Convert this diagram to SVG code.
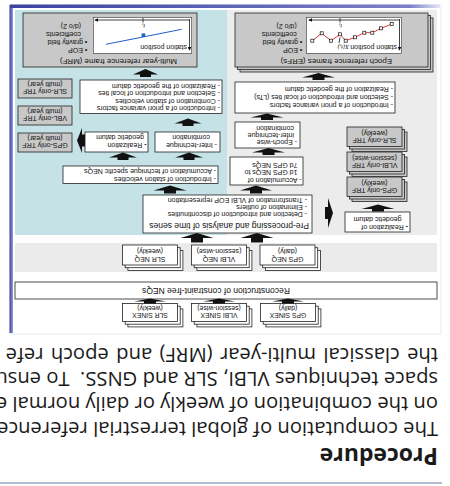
<svg xmlns="http://www.w3.org/2000/svg" width="450" height="486" viewBox="0 0 450 486">
<defs>
<style>
.body{font-family:"Open Sans","Liberation Sans",sans-serif;font-size:20.2px;fill:#1a1a1a}
.h{font-family:"Open Sans","Liberation Sans",sans-serif;font-size:23px;font-weight:bold;fill:#1a1a1a}
.s{font-family:"Liberation Sans",Arial,sans-serif;font-size:7px;fill:#111}
.m{text-anchor:middle}
.big{font-size:8.5px}
.ttl{font-size:7.9px}
.xs{font-size:6.8px}
.box{fill:#fff;stroke:#222;stroke-width:0.8}
.gbox{fill:#c8c8c8;stroke:#222;stroke-width:0.8}
.arr{fill:#111}
.ax{stroke:#111;stroke-width:0.8;fill:none}
.it{font-family:"Liberation Serif",serif;font-style:italic;font-size:6.5px;fill:#111}
</style>
<linearGradient id="gh" x1="10" y1="0" x2="440" y2="0" gradientUnits="userSpaceOnUse">
<stop offset="0" stop-color="#e4e6f4"/><stop offset="0.07" stop-color="#7a80c8"/><stop offset="1" stop-color="#3c42a0"/>
</linearGradient>
<linearGradient id="gv" x1="0" y1="0" x2="1" y2="0">
<stop offset="0" stop-color="#9a9edc"/><stop offset="1" stop-color="#3a3f9c"/>
</linearGradient>
<marker id="ah" viewBox="0 0 6 6" refX="5" refY="3" markerWidth="5" markerHeight="5" orient="auto"><path d="M0,0 L6,3 L0,6 Z" fill="#111"/></marker>
</defs>
<rect width="450" height="486" fill="#fff"/>
<g transform="rotate(180 225 243)">
<g id="header">
<line x1="8" y1="3" x2="450" y2="3" stroke="#98a6c4" stroke-width="1.5"/>
<text class="h" x="12" y="38">Procedure</text>
<text class="body" x="12" y="64.5">The computation of global terrestrial reference</text>
<text class="body" x="12" y="89">on the combination of weekly or daily normal e</text>
<text class="body" x="12" y="114">space techniques VLBI, SLR and GNSS.&#160; To ensu</text>
<text class="body" x="12" y="138.5" word-spacing="2.2">the classical multi-year (MRF) and epoch refe</text>
</g>
<g id="panel">
<rect x="9" y="152" width="431" height="329" fill="#fff" stroke="#e2e5ec" stroke-width="0.8"/>
<rect x="437" y="153" width="3.5" height="328" fill="url(#gv)"/>
<rect x="10" y="478" width="430" height="3.5" fill="url(#gh)"/>
<rect x="223" y="251" width="212" height="225" fill="#c5e2e7"/>
<rect x="13" y="251" width="210" height="225" fill="#ececec"/>
<rect x="13" y="214" width="422" height="29" fill="#ebebeb"/>
</g>
<g id="sinex">
<g id="gps-sinex"><rect class="box" x="129.1" y="159.1" width="55" height="18"/><rect class="box" x="131.8" y="161.8" width="55" height="18"/><rect class="box" x="134.5" y="164.5" width="55" height="18"/><text class="s m xs" x="162" y="173.2">GPS SINEX</text><text class="s m xs" x="162" y="180.4">(daily)</text></g>
<g id="vlbi-sinex"><rect class="box" x="198.1" y="159.1" width="55" height="18"/><rect class="box" x="200.8" y="161.8" width="55" height="18"/><rect class="box" x="203.5" y="164.5" width="55" height="18"/><text class="s m xs" x="231" y="173.2">VLBI SINEX</text><text class="s m xs" x="231" y="180.4">(session-wise)</text></g>
<g id="slr-sinex"><rect class="box" x="267.1" y="159.1" width="55" height="18"/><rect class="box" x="269.8" y="161.8" width="55" height="18"/><rect class="box" x="272.5" y="164.5" width="55" height="18"/><text class="s m xs" x="300" y="173.2">SLR SINEX</text><text class="s m xs" x="300" y="180.4">(weekly)</text></g>
</g>
<g id="reconstruction"><rect class="box" x="13" y="187" width="422" height="17"/><text class="s m big" x="234" y="198.5">Reconstruction of constraint-free NEQs</text></g>
<g id="neq">
<g id="gps-neq"><rect class="box" x="129.6" y="215.6" width="55" height="20"/><rect class="box" x="132.3" y="218.3" width="55" height="20"/><rect class="box" x="135" y="221" width="55" height="20"/><text class="s m" x="162.5" y="229">GPS NEQ</text><text class="s m" x="162.5" y="237">(daily)</text></g>
<g id="vlbi-neq"><rect class="box" x="198.1" y="215.6" width="55" height="20"/><rect class="box" x="200.8" y="218.3" width="55" height="20"/><rect class="box" x="203.5" y="221" width="55" height="20"/><text class="s m" x="231" y="229">VLBI NEQ</text><text class="s m" x="231" y="237">(session-wise)</text></g>
<g id="slr-neq"><rect class="box" x="267.1" y="215.6" width="55" height="20"/><rect class="box" x="269.8" y="218.3" width="55" height="20"/><rect class="box" x="272.5" y="221" width="55" height="20"/><text class="s m" x="300" y="229">SLR NEQ</text><text class="s m" x="300" y="237">(weekly)</text></g>
</g>
<g id="preprocessing"><rect class="box" x="138" y="253" width="169" height="38"/>
<text class="s big" x="141" y="262.8">Pre-processing and analysis of time series</text>
<text class="s" x="143" y="274">- Detection and introduction of discontinuities</text>
<text class="s" x="143" y="281.2">- Elimination of outliers</text>
<text class="s" x="143" y="288.4">- Transformation of VLBI EOP representation</text></g>
<g id="realization-gps"><rect class="box" x="40" y="254" width="65" height="20"/>
<text class="s" x="42" y="261.5"><tspan font-weight="bold">-</tspan> Realization of</text><text class="s" x="48.5" y="268.7">geodetic datum</text></g>
<g id="gps-trf-weekly"><rect class="gbox" x="43" y="284.5" width="55" height="19.5"/><rect class="gbox" x="45.5" y="287" width="55" height="19.5"/><rect class="gbox" x="48" y="289.5" width="55" height="19.5"/><text class="s m" x="75.5" y="297.6">GPS-only TRF</text><text class="s m" x="75.5" y="305">(weekly)</text></g>
<g id="vlbi-trf-weekly"><rect class="gbox" x="43" y="309.5" width="55" height="19.5"/><rect class="gbox" x="45.5" y="312" width="55" height="19.5"/><rect class="gbox" x="48" y="314.5" width="55" height="19.5"/><text class="s m" x="75.5" y="322.6">VLBI-only TRF</text><text class="s m" x="75.5" y="330">(session-wise)</text></g>
<g id="slr-trf-weekly"><rect class="gbox" x="43" y="334.5" width="55" height="19.5"/><rect class="gbox" x="45.5" y="337" width="55" height="19.5"/><rect class="gbox" x="48" y="339.5" width="55" height="19.5"/><text class="s m" x="75.5" y="347.6">SLR-only TRF</text><text class="s m" x="75.5" y="355">(weekly)</text></g>
<g id="accumulation"><rect class="box" x="147" y="301" width="73" height="28"/>
<text class="s" x="148.5" y="308.5">- Accumulation of</text><text class="s" x="152.5" y="316">1d GPS NEQs to</text><text class="s" x="152.5" y="323.4">7d GPS NEQs</text></g>
<g id="epoch-wise"><rect class="box" x="150" y="338" width="65" height="26"/>
<text class="s" x="153" y="346.1">- Epoch-wise</text><text class="s" x="156" y="353.2">inter-technique</text><text class="s" x="156" y="360.3">combination</text></g>
<g id="erf-combination"><rect class="box" x="55" y="373" width="160" height="31"/>
<text class="s" x="57" y="383.5">- Introduction of a priori variance factors</text>
<text class="s" x="57" y="391.3">- Selection and introduction of local ties (LTs)</text>
<text class="s" x="57" y="399.1">- Realization of the geodetic datum</text></g>
<g id="erf"><rect class="gbox" x="17" y="414" width="193" height="54"/><rect class="gbox" x="19.5" y="416.5" width="193" height="54"/><rect class="gbox" x="22" y="419" width="193" height="54"/>
<text class="s ttl" x="58" y="427">Epoch reference frames (ERFs)</text>
<rect x="48.5" y="432.7" width="95" height="36" fill="#fff" stroke="#333" stroke-width="0.6"/>
<line class="ax" x1="50.5" y1="467" x2="50.5" y2="436" marker-end="url(#ah)"/>
<line class="ax" x1="50" y1="466" x2="141" y2="466" marker-end="url(#ah)"/>
<line class="ax" x1="110" y1="463.5" x2="110" y2="468"/>
<text class="s" x="53" y="441" font-size="6.6">station position</text>
<text class="it" x="108" y="462">t<tspan font-size="4.5" dy="1.2">i</tspan></text>
<text class="it" x="101" y="441">X(t<tspan font-size="4.5" dy="1.2">i</tspan><tspan dy="-1.2">)</tspan></text>
<line class="ax" x1="111" y1="443" x2="110" y2="448.5"/>
<polyline points="58.3,462 69,457.7 77.7,453.3 85.7,453.3 95,448.7 104.3,445.3 110,451.7 119,445.3 128.3,452.7 137.7,445.3" fill="none" stroke="#e02020" stroke-width="0.9"/>
<g fill="#fff" stroke="#111" stroke-width="0.7">
<rect x="56.8" y="460.5" width="3" height="3"/><rect x="67.5" y="456.2" width="3" height="3"/><rect x="76.2" y="451.8" width="3" height="3"/><rect x="84.2" y="451.8" width="3" height="3"/><rect x="93.5" y="447.2" width="3" height="3"/><rect x="102.8" y="443.8" width="3" height="3"/><rect x="108.5" y="450.2" width="3" height="3"/><rect x="117.5" y="443.8" width="3" height="3"/><rect x="126.8" y="451.2" width="3" height="3"/><rect x="136.2" y="443.8" width="3" height="3"/>
</g>
<text class="s" x="147.7" y="437.7">• EOP</text><text class="s" x="147.7" y="446">• gravity field</text><text class="s" x="153.3" y="454.2">coefficients</text><text class="s" x="153.3" y="461.8">(d/o 2)</text>
</g>
<g id="blue-velocities"><rect class="box" x="232" y="302.5" width="155" height="17.5"/>
<text class="s" x="234" y="309.3">- Introduction of station velocities</text><text class="s" x="234" y="316.7">- Accumulation of technique specific NEQs</text></g>
<g id="inter-technique"><rect class="box" x="230" y="334" width="65" height="20"/>
<text class="s" x="233" y="343.3">- Inter-technique</text><text class="s" x="240" y="351.2">combination</text></g>
<g id="realization-datum"><rect class="box" x="302" y="334" width="63" height="20"/>
<text class="s" x="303.5" y="343.3"><tspan font-weight="bold">-</tspan> Realization</text><text class="s" x="306" y="351.2">geodetic datum</text></g>
<g id="gps-trf-multi"><rect class="gbox" x="378" y="334" width="54" height="19"/><text class="s m" x="405" y="342.8">GPS-only TRF</text><text class="s m" x="405" y="350.5">(multi year)</text></g>
<g id="vbl-trf-multi"><rect class="gbox" x="378" y="361" width="54" height="19"/><text class="s m" x="405" y="369.8">VBL-only TRF</text><text class="s m" x="405" y="377.5">(multi year)</text></g>
<g id="slr-trf-multi"><rect class="gbox" x="378" y="388" width="54" height="19"/><text class="s m" x="405" y="396.8">SLR-only TRF</text><text class="s m" x="405" y="404.5">(multi year)</text></g>
<g id="mrf-combination"><rect class="box" x="228" y="372.5" width="142" height="33.5"/>
<text class="s" x="230" y="379.6">- Introduction of a priori variance factors</text>
<text class="s" x="230" y="387.1">- Combination of station velocities</text>
<text class="s" x="230" y="394.6">- Selection and introduction of local ties</text>
<text class="s" x="230" y="402.1">- Realization of the geodetic datum</text></g>
<g id="mrf"><rect class="gbox" x="253" y="419" width="174" height="54"/>
<text class="s ttl" x="273" y="427">Multi-year reference frame (MRF)</text>
<rect x="258.3" y="432.7" width="98.4" height="36" fill="#fff" stroke="#333" stroke-width="0.6"/>
<line class="ax" x1="260.5" y1="467" x2="260.5" y2="436" marker-end="url(#ah)"/>
<line class="ax" x1="260" y1="466" x2="355" y2="466" marker-end="url(#ah)"/>
<line class="ax" x1="307" y1="463.5" x2="307" y2="468"/>
<text class="s" x="263" y="441" font-size="6.6">station position</text>
<text class="it" x="305" y="462">t<tspan font-size="4.5" dy="1.2">i</tspan></text>
<line x1="268.3" y1="456.7" x2="344" y2="441.7" stroke="#1f5fc8" stroke-width="1"/>
<rect x="304.8" y="449" width="3.6" height="3.6" fill="#1f5fc8"/>
<text class="s" x="362.7" y="437.7">• EOP</text><text class="s" x="362.7" y="446">• gravity field</text><text class="s" x="369" y="454.2">coefficients</text><text class="s" x="369" y="461.8">(d/o 2)</text>
</g>
<g id="connectors" class="arr">
<path d="M156,182.5 H168 V184.5 H178 L162,187.5 L146,184.5 H156 Z"/>
<path d="M225,182.5 H237 V184.5 H247 L231,187.5 L215,184.5 H225 Z"/>
<path d="M294,182.5 H306 V184.5 H316 L300,187.5 L284,184.5 H294 Z"/>
<path d="M187,243.5 H199 V248 H209.5 L193,253 L176.5,248 H187 Z"/>
<path d="M247,243.5 H259 V248 H269.5 L253,253 L236.5,248 H247 Z"/>
<path d="M188,292.5 H200 V295.5 H210 L194,300.5 L178,295.5 H188 Z"/>
<path d="M274,292.5 H286 V295.5 H296.5 L280,300.5 L263.5,295.5 H274 Z"/>
<path d="M255.5,326 H266.5 V328.5 H275 L261,333.5 L247,328.5 H255.5 Z"/>
<path d="M321.5,326 H332.5 V328.5 H341 L327,333.5 L313,328.5 H321.5 Z"/>
<path d="M256.5,360 H267.5 V362.5 H275.5 L262,367.5 L248.5,362.5 H256.5 Z"/>
<path d="M299,409 H310 V411.5 H317 L304.5,417 L292,411.5 H299 Z"/>
<path d="M66,274.5 H78 V277 H88.5 L72,281.5 L55.5,277 H66 Z"/>
<path d="M175.5,331 H187.5 V333.5 H198 L181.5,338 L165,333.5 H175.5 Z"/>
<path d="M177,366 H189 V368.5 H199.5 L183,372.5 L166.5,368.5 H177 Z"/>
<path d="M125.5,406 H137.5 V408.5 H148 L131.5,413 L115,408.5 H125.5 Z"/>
<path d="M125,267 V279 H122 V288 L117,273 L122,258 V267 Z"/>
<path d="M365,339.5 V351.5 H368 V358 L373,345.5 L368,333 V339.5 Z"/>
</g>
</g>
</svg>
